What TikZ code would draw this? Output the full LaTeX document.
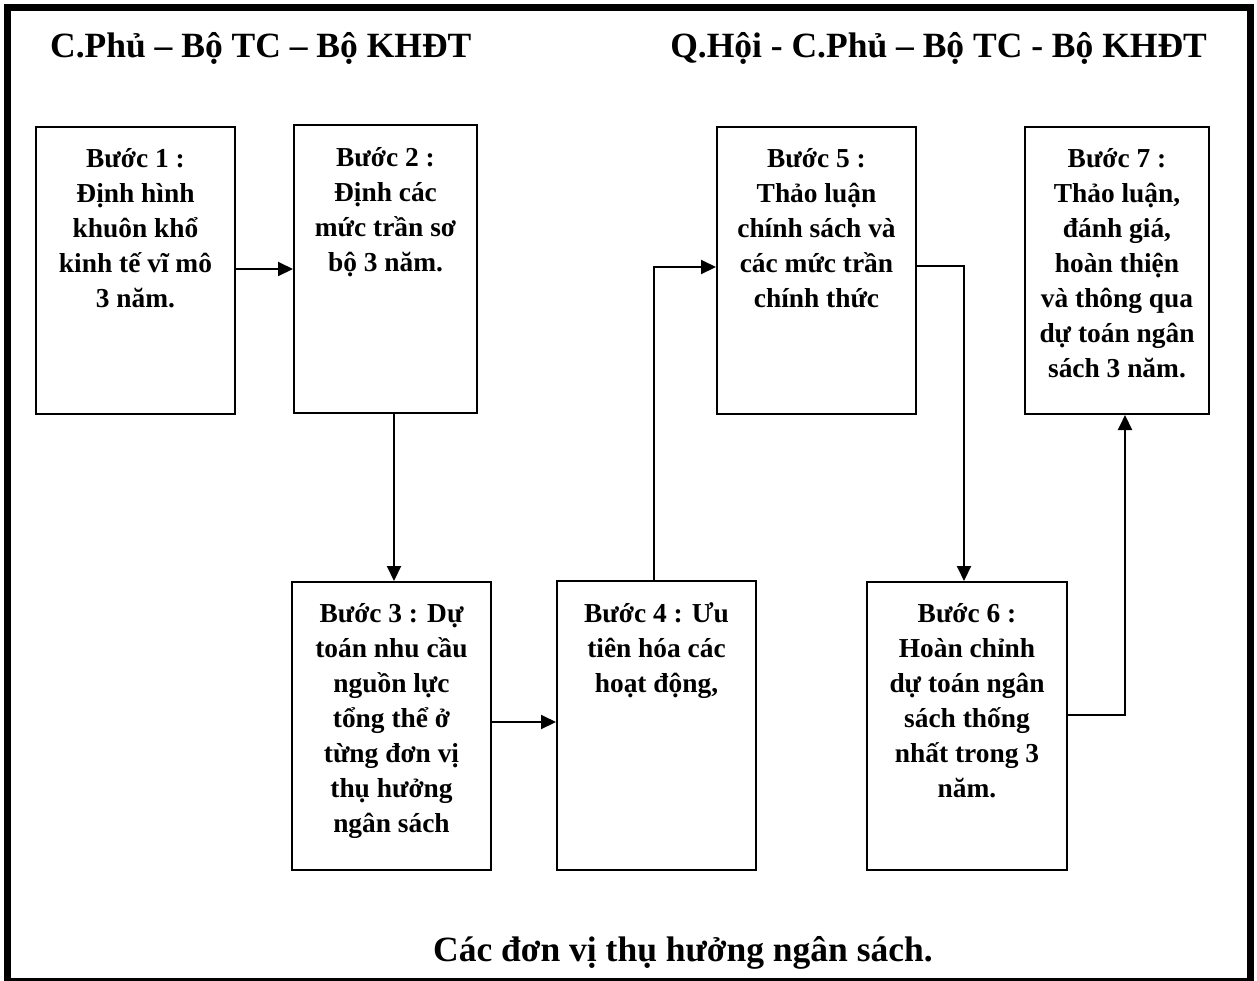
\documentclass[tikz,border=0pt]{standalone}
\usepackage{fontspec}
\setmainfont{Liberation Serif}
\usetikzlibrary{arrows.meta}
\tikzset{
  box/.style={draw, line width=2pt, anchor=north west, inner sep=0pt},
  btext/.style={anchor=base, inner sep=0pt, font=\fontsize{27.4}{35}\selectfont\bfseries},
  head/.style={inner sep=0pt, font=\fontsize{35.5}{40}\selectfont\bfseries},
  conn/.style={line width=2pt, -{Triangle[length=15pt,width=14pt]}},
}
\newcommand{\boxtext}[1]{\parbox[t]{198pt}{\centering #1}}
\begin{document}
\begin{tikzpicture}[x=1pt,y=-1pt]
\useasboundingbox (0,0) rectangle (1257,980);
\draw[line width=7pt] (7.5,7) rectangle (1250,981);

\node[head, anchor=base west] (h1) at (50,57) {C.Phủ – Bộ TC – Bộ KHĐT};
\node[head, anchor=base east] (h2) at (1207,57) {Q.Hội - C.Phủ – Bộ TC - Bộ KHĐT};
\node[head, anchor=base west] (foot) at (433,961) {Các đơn vị thụ hưởng ngân sách.};

\node[box, minimum width=199pt, minimum height=287pt] (b1) at (35,126) {};
\node[box, minimum width=183pt, minimum height=288pt] (b2) at (293,124) {};
\node[box, minimum width=199pt, minimum height=287pt] (b5) at (716,126) {};
\node[box, minimum width=184pt, minimum height=287pt] (b7) at (1024,126) {};
\node[box, minimum width=199pt, minimum height=288pt] (b3) at (291,581) {};
\node[box, minimum width=199pt, minimum height=289pt] (b4) at (556,580) {};
\node[box, minimum width=200pt, minimum height=288pt] (b6) at (866,581) {};

\node[btext] (t1) at ([yshift=-41pt]b1.north) {\boxtext{Bước 1 :\\ Định hình\\ khuôn khổ\\ kinh tế vĩ mô\\ 3 năm.}};
\node[btext] (t2) at ([yshift=-42pt]b2.north) {\boxtext{Bước 2 :\\ Định các\\ mức trần sơ\\ bộ 3 năm.}};
\node[btext] (t5) at ([yshift=-41pt]b5.north) {\boxtext{Bước 5 :\\ Thảo luận\\ chính sách và\\ các mức trần\\ chính thức}};
\node[btext] (t7) at ([yshift=-41pt]b7.north) {\boxtext{Bước 7 :\\ Thảo luận,\\ đánh giá,\\ hoàn thiện\\ và thông qua\\ dự toán ngân\\ sách 3 năm.}};
\node[btext] (t3) at ([yshift=-41pt]b3.north) {\boxtext{Bước 3 : Dự\\ toán nhu cầu\\ nguồn lực\\ tổng thể ở\\ từng đơn vị\\ thụ hưởng\\ ngân sách}};
\node[btext] (t4) at ([yshift=-42pt]b4.north) {\boxtext{Bước 4 : Ưu\\ tiên hóa các\\ hoạt động,}};
\node[btext] (t6) at ([yshift=-41pt]b6.north) {\boxtext{Bước 6 :\\ Hoàn chỉnh\\ dự toán ngân\\ sách thống\\ nhất trong 3\\ năm.}};

\draw[conn] (b1.east |- 0,269) -- (b2.west |- 0,269);
\draw[conn] (b2.south -| 394,0) -- (b3.north -| 394,0);
\draw[conn] (b3.east |- 0,722) -- (b4.west |- 0,722);
\draw[conn] (b4.north -| 654,0) |- (b5.west |- 0,267);
\draw[conn] (b5.east |- 0,266) -| (b6.north -| 964,0);
\draw[conn] (b6.east |- 0,715) -| (b7.south -| 1125,0);
\end{tikzpicture}
\end{document}
